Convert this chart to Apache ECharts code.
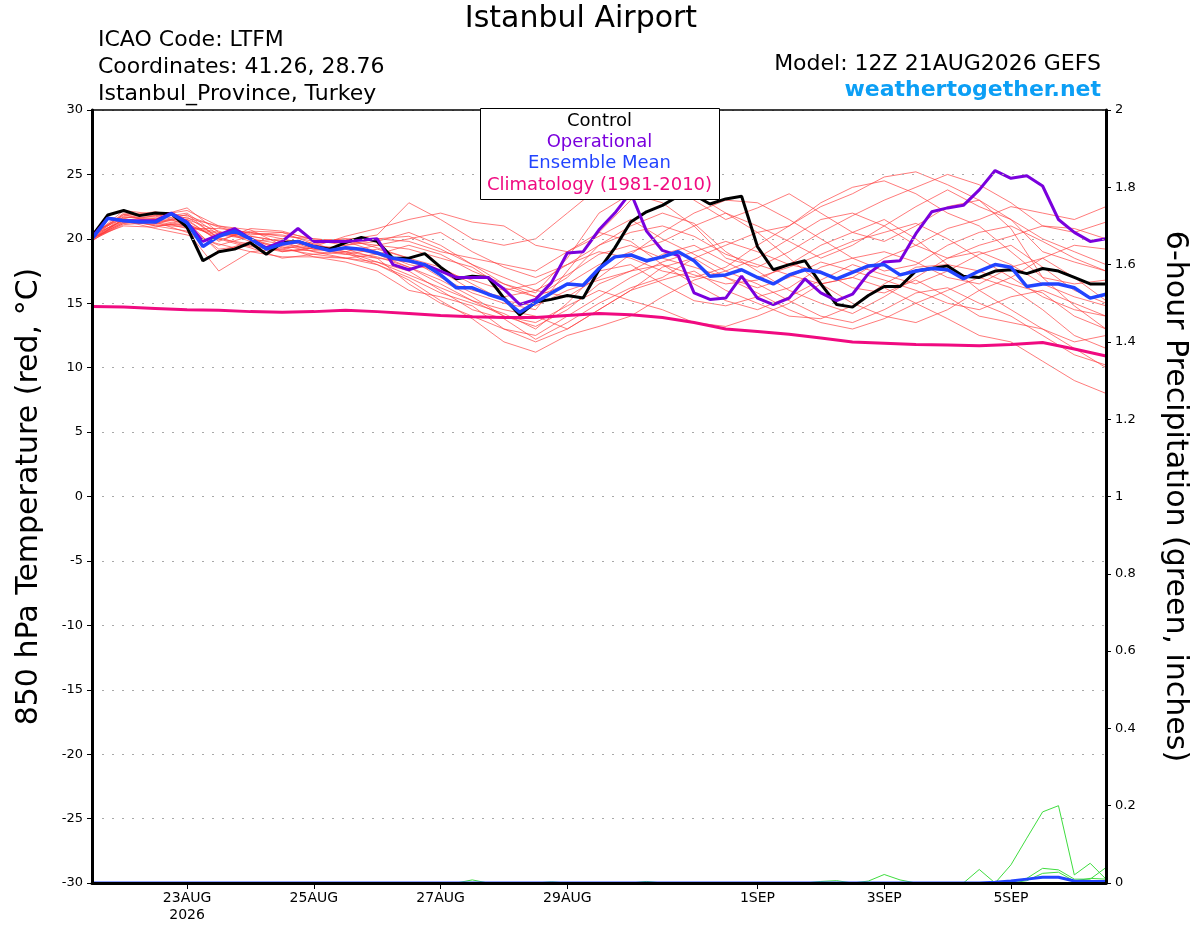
<!DOCTYPE html>
<html>
<head>
<meta charset="utf-8">
<title>Istanbul Airport</title>
<script src="https://cdn.jsdelivr.net/npm/echarts@6.0.0/dist/echarts.min.js"></script>
<style>
html, body { margin: 0; padding: 0; background: #fff; }
#chart { width: 1200px; height: 927px; }
</style>
</head>
<body>
<div id="chart"></div>
<script>
// forecast hours from 12Z 21AUG2026
var hours6 = [0,6,12,18,24,30,36,42,48,54,60,66,72,78,84,90,96,102,108,114,120,126,132,138,144,150,156,162,168,174,180,186,192,198,204,210,216,222,228,234,240,246,252,258,264,270,276,282,288,294,300,306,312,318,324,330,336,342,348,354,360,366,372,378,384];
var hours12 = [0,12,24,36,48,60,72,84,96,108,120,132,144,156,168,180,192,204,216,228,240,252,264,276,288,300,312,324,336,348,360,372,384];

var tickHours = [36, 84, 132, 180, 252, 300, 348];
var tickLabels = ['23AUG\n2026', '25AUG', '27AUG', '29AUG', '1SEP', '3SEP', '5SEP'];

// 850 hPa temperature, 6-hourly
var controlT = [20.2,21.85,22.2,21.8,22.0,21.95,20.9,18.3,19.0,19.2,
	19.7,18.8,19.7,19.8,19.4,19.2,19.7,20.1,19.8,18.5,
	18.5,18.85,17.8,16.9,17.1,17.0,15.4,14.1,15.1,15.3,
	15.6,15.4,17.6,19.3,21.3,22.1,22.6,23.3,23.4,22.7,
	23.1,23.3,19.4,17.6,18.0,18.3,16.5,14.9,14.7,15.6,
	16.3,16.3,17.5,17.7,17.9,17.1,17.0,17.5,17.6,17.3,
	17.7,17.5,17.0,16.5,16.5];
var operationalT = [20.1,21.6,21.4,21.4,21.4,22.0,21.3,19.8,20.3,20.8,
	20.0,19.3,19.8,20.8,19.8,19.8,19.8,19.9,20.0,18.0,
	17.6,18.0,17.5,17.0,17.0,17.0,16.1,14.9,15.3,16.6,
	18.9,19.0,20.7,22.0,23.6,20.6,19.1,18.7,15.8,15.3,
	15.4,17.1,15.4,14.9,15.4,16.9,15.8,15.2,15.7,17.3,
	18.2,18.3,20.4,22.1,22.4,22.6,23.8,25.3,24.7,24.9,
	24.1,21.5,20.5,19.8,20.0];
var meanT = [20.0,21.6,21.4,21.3,21.3,21.95,21.25,19.4,20.2,20.6,
	20.0,19.2,19.6,19.8,19.4,19.1,19.3,19.2,18.9,18.5,
	18.3,18.0,17.2,16.2,16.2,15.7,15.3,14.3,15.05,15.8,
	16.5,16.4,17.7,18.6,18.75,18.3,18.6,19.0,18.3,17.1,
	17.2,17.6,17.0,16.5,17.2,17.6,17.4,16.9,17.4,17.9,
	18.0,17.2,17.5,17.7,17.6,16.9,17.5,18.0,17.8,16.3,
	16.5,16.5,16.2,15.4,15.7];

// climatology 1981-2010, 12-hourly
var climoT = [14.75,14.7,14.6,14.5,14.45,14.35,14.3,14.35,14.45,14.35,
	14.2,14.05,13.95,13.9,13.9,14.05,14.2,14.1,13.9,13.5,
	13.0,12.8,12.6,12.3,12.0,11.9,11.8,11.75,11.7,11.8,
	11.95,11.45,10.9];

// ensemble members, 12-hourly
var member01 = [20.3,21.9,21.7,22.4,20.5,20.2,19.8,19.6,19.9,20.3,22.8,21.5,20.0,19.5,20.0,22.0,24.0,25.4,24.8,23.0,21.5,22.4,23.5,22.0,20.5,19.8,21.0,22.5,23.0,21.5,19.0,18.2,17.5];
var member02 = [20.0,21.5,21.2,21.0,19.2,19.5,19.0,19.3,19.0,18.2,17.5,16.0,14.5,13.8,12.2,13.5,15.0,16.2,17.0,18.5,19.5,20.5,21.0,22.5,23.5,24.8,25.2,24.2,23.0,20.8,17.0,14.8,13.0];
var member03 = [19.9,21.2,21.4,20.8,20.8,20.5,20.0,19.2,18.9,18.0,17.0,15.8,15.0,14.2,13.0,15.0,17.5,18.0,16.5,15.2,14.8,15.5,16.2,17.8,18.5,19.0,18.2,17.0,16.5,17.8,18.5,17.0,15.2];
var member04 = [20.2,22.2,21.9,21.8,20.9,20.3,20.5,20.0,19.8,19.5,19.2,18.5,17.8,16.2,15.5,17.0,19.5,21.0,22.0,21.2,19.0,17.5,16.0,15.0,14.2,15.5,17.0,18.5,19.5,20.2,21.0,20.8,20.0];
var member05 = [20.1,21.0,20.9,21.5,19.8,20.8,20.6,19.9,19.5,19.8,20.5,19.5,18.0,16.5,15.8,18.5,22.0,23.5,22.8,21.0,18.5,17.8,19.0,20.5,21.8,23.0,24.0,25.0,24.2,22.8,21.0,20.5,21.3];
var member06 = [19.8,21.6,21.0,20.6,17.5,19.0,19.2,18.8,18.5,18.0,16.8,15.2,13.8,12.0,11.2,12.5,13.2,14.0,15.5,16.8,17.5,16.5,15.2,14.0,13.5,14.5,15.8,16.2,15.0,14.0,12.5,11.0,10.2];
var member07 = [20.4,21.8,22.1,21.6,21.0,20.7,19.5,19.0,18.8,19.2,18.5,17.8,16.5,15.2,14.8,16.0,16.8,17.5,18.8,19.5,18.2,17.0,17.8,18.8,19.8,20.5,21.2,20.0,18.5,17.0,15.5,14.5,14.0];
var member08 = [20.0,21.3,21.6,22.0,20.3,20.0,19.3,19.4,20.2,20.8,21.5,22.0,21.3,21.0,19.5,19.0,20.5,19.8,18.0,16.5,15.2,14.5,15.5,16.8,18.0,17.2,16.5,17.5,18.8,19.5,17.8,16.0,15.0];
var member09 = [20.2,21.5,21.0,21.2,20.0,19.3,18.5,18.8,19.0,18.6,17.8,16.8,15.5,14.0,13.5,14.8,16.0,15.2,14.5,13.5,13.2,14.0,15.0,16.5,17.0,16.2,15.0,13.8,12.5,12.0,10.5,9.0,8.0];
var member10 = [20.0,21.7,21.5,21.0,20.2,20.5,20.2,20.0,19.8,19.0,18.0,17.5,16.8,16.0,16.5,18.0,19.5,20.5,21.0,20.2,18.8,18.0,17.2,16.5,17.0,18.5,19.5,20.8,21.5,22.5,22.0,21.5,22.5];
var member11 = [20.3,21.4,21.8,21.5,20.6,19.8,20.0,19.5,19.2,18.5,16.5,15.0,14.0,13.0,12.0,13.0,14.5,16.0,17.8,18.5,17.0,15.8,14.5,13.5,13.0,13.8,15.0,16.0,17.0,16.2,14.5,12.5,11.5];
var member12 = [19.9,21.1,21.3,20.5,19.5,20.2,19.8,19.0,18.5,18.8,19.5,18.8,17.5,16.5,15.5,16.5,18.0,19.0,19.8,21.0,22.0,21.0,19.8,18.5,19.5,21.0,22.5,23.8,22.5,21.5,20.0,19.0,18.0];
var member13 = [20.1,21.9,21.2,21.9,20.0,19.6,19.2,19.8,20.0,19.3,18.5,17.0,15.8,15.0,14.5,17.5,20.5,23.0,24.5,23.5,22.0,20.5,18.5,16.5,15.0,14.0,13.5,14.5,16.0,17.0,18.5,19.5,19.2];
var member14 = [20.0,21.2,21.5,21.3,19.0,19.8,19.4,18.6,18.2,17.5,16.0,15.5,14.8,13.0,12.5,14.0,15.5,17.0,18.2,19.0,19.8,19.0,18.0,17.5,16.2,15.8,16.8,15.5,14.0,13.5,13.0,12.0,12.5];
var member15 = [20.2,22.0,21.8,22.2,21.0,20.4,20.3,19.8,20.0,20.0,19.8,19.0,18.5,18.0,17.5,19.0,20.2,21.5,20.0,18.8,17.5,18.5,20.0,21.5,22.0,21.0,19.5,18.5,19.0,18.0,16.5,15.5,14.8];
var member16 = [20.0,21.4,20.8,20.3,19.6,19.0,18.6,18.6,18.5,18.2,17.2,16.2,15.2,14.5,14.0,13.0,14.5,16.0,16.8,17.5,16.0,15.0,14.0,13.8,14.8,16.5,17.8,18.0,17.5,16.5,15.8,14.0,13.0];
var member17 = [20.5,21.6,22.0,21.0,20.5,20.0,19.6,19.2,19.5,20.0,20.2,19.2,18.0,17.0,16.0,15.5,17.0,18.8,20.5,22.0,23.0,22.8,21.5,20.0,18.5,17.5,18.0,19.5,20.5,21.0,19.8,18.5,17.5];
var member18 = [20.0,21.3,21.1,20.9,20.4,20.1,19.0,19.3,18.8,18.5,18.2,17.5,16.0,15.5,16.0,17.2,18.8,19.5,18.5,17.8,17.0,16.2,17.0,18.2,17.5,16.8,16.0,15.0,14.5,15.5,16.0,15.0,14.0];
var member19 = [20.3,21.7,21.6,21.4,19.9,20.6,20.5,19.6,19.0,19.5,20.0,20.5,19.0,17.8,17.0,18.0,19.0,18.5,17.5,17.0,17.8,19.5,21.0,22.8,24.0,24.5,23.5,22.0,21.0,19.0,17.0,16.5,16.8];
var member20 = [20.1,21.5,21.2,21.7,20.1,19.4,19.1,19.1,19.3,18.8,17.8,16.5,15.2,14.0,13.2,14.5,16.5,17.5,18.0,17.2,16.5,16.8,18.0,19.5,20.5,21.5,20.0,18.0,16.0,14.5,13.0,11.5,10.0];
var memberList = [member01, member02, member03, member04, member05, member06, member07, member08, member09, member10,
	member11, member12, member13, member14, member15, member16, member17, member18, member19, member20];

// 6-hour precipitation (inches), 6-hourly
var precipG1 = [0,0,0,0,0,0,0,0,0,0, 0,0,0,0,0,0,0,0,0,0, 0,0,0,0,0.008,0,0,0,0,0, 0,0,0,0,0,0,0,0,0,0,
	0,0,0,0,0,0,0,0,0,0.005, 0.022,0.008,0,0,0,0,0.035,0,0.047,0.116, 0.184,0.2,0.021,0.051,0.01];
var precipG2 = [0,0,0,0,0,0,0,0,0,0, 0,0,0,0,0,0,0,0,0,0, 0,0,0,0,0,0,0,0,0,0.003, 0,0,0,0,0,0.004,0,0,0,0,
	0,0,0,0,0,0,0,0,0,0, 0,0,0,0,0,0,0,0,0.002,0.012, 0.038,0.034,0.01,0.01,0.04];
var precipG3 = [0,0,0,0,0,0,0,0,0,0, 0,0,0,0,0,0,0,0,0,0, 0,0,0,0,0,0,0,0,0,0, 0,0,0,0,0,0,0,0,0,0,
	0,0,0,0,0,0,0.004,0.006,0,0, 0,0,0,0,0,0,0,0,0,0.006, 0.025,0.028,0.005,0.012,0.01];
var precipMean = [0,0,0,0,0,0,0,0,0,0, 0,0,0,0,0,0,0,0,0,0, 0,0,0,0,0,0,0,0,0,0, 0,0,0,0,0,0,0,0,0,0,
	0,0,0,0,0,0,0,0,0,0, 0,0,0,0,0,0,0,0.002,0.005,0.01, 0.015,0.015,0.005,0.004,0.004];

var FONT = 'DejaVu Sans';

function pairs(xs, ys) {
	return ys.map(function (v, k) { return [xs[k], v]; });
}

function lineSeries(data, axis, color, width, z) {
	return {
		type: 'line',
		yAxisIndex: axis,
		data: data,
		showSymbol: false,
		silent: true,
		lineStyle: { color: color, width: width },
		z: z
	};
}

var seriesList = [];
memberList.forEach(function (m) {
	var s = lineSeries(pairs(hours12, m), 0, '#ff3c3c', 0.8, 2);
	s.lineStyle.opacity = 0.85;
	seriesList.push(s);
});
[precipG1, precipG2, precipG3].forEach(function (p) {
	seriesList.push(lineSeries(pairs(hours6, p), 1, '#3fdc3f', 1, 3));
});
seriesList.push(lineSeries(pairs(hours6, precipMean), 1, '#2244ff', 3, 3));
seriesList.push(lineSeries(pairs(hours6, controlT), 0, '#000000', 3, 4));
seriesList.push(lineSeries(pairs(hours6, operationalT), 0, '#7a00dd', 3, 5));
seriesList.push(lineSeries(pairs(hours6, meanT), 0, '#2244ff', 3.5, 6));
seriesList.push(lineSeries(pairs(hours12, climoT), 0, '#f00a80', 3, 7));

function txt(str, x, y, size, align, color, weight) {
	return {
		type: 'text', z: 100,
		style: {
			text: str, x: x, y: y,
			fontFamily: FONT, fontSize: size, fontWeight: weight || 'normal',
			fill: color || '#000',
			textAlign: align, align: align,
			textVerticalAlign: 'middle', verticalAlign: 'middle'
		}
	};
}

var chart = echarts.init(document.getElementById('chart'));

var option = {
	animation: false,
	backgroundColor: '#fff',
	grid: {
		left: 92, right: 94, top: 110, bottom: 44,
		outerBoundsMode: 'none',
		containLabel: false,
		show: false
	},
	xAxis: [
		{
			type: 'value', min: 0, max: 384, z: 10,
			axisLine: { show: true, onZero: false, lineStyle: { color: '#000', width: 3 } },
			axisTick: { show: true, customValues: tickHours, length: 6, lineStyle: { color: '#000', width: 1 } },
			axisLabel: {
				customValues: tickHours,
				margin: 7,
				fontFamily: FONT, fontSize: 14, lineHeight: 17, color: '#000',
				formatter: function (v) {
					var k = tickHours.indexOf(v);
					return k >= 0 ? tickLabels[k] : '';
				}
			},
			splitLine: { show: false }
		},
		{
			// top frame line
			type: 'value', position: 'top', min: 0, max: 384, z: 10,
			axisLine: { show: true, onZero: false, lineStyle: { color: '#000', width: 1.5 } },
			axisTick: { show: false },
			axisLabel: { show: false },
			splitLine: { show: false }
		}
	],
	yAxis: [
		{
			type: 'value', position: 'left', min: -30, max: 30, interval: 5, z: 10,
			name: '850 hPa Temperature (red, °C)',
			nameLocation: 'middle', nameRotate: 90, nameGap: 48,
			nameTextStyle: { fontFamily: FONT, fontSize: 30, color: '#000' },
			axisLine: { show: true, onZero: false, lineStyle: { color: '#000', width: 3 } },
			axisTick: { show: true, length: 5, lineStyle: { color: '#000', width: 1 } },
			axisLabel: { margin: 9, fontFamily: FONT, fontSize: 13, color: '#000' },
			splitLine: { show: true, lineStyle: { color: '#a8a8a8', width: 1, type: [2, 8] } }
		},
		{
			type: 'value', position: 'right', min: 0, max: 2, interval: 0.2, z: 10,
			name: '6-hour Precipitation (green, inches)',
			nameLocation: 'middle', nameRotate: -90, nameGap: 54,
			nameTextStyle: { fontFamily: FONT, fontSize: 30, color: '#000' },
			axisLine: { show: true, onZero: false, lineStyle: { color: '#000', width: 3 } },
			axisTick: { show: true, length: 5, lineStyle: { color: '#000', width: 1 } },
			axisLabel: { margin: 9, fontFamily: FONT, fontSize: 13, color: '#000' },
			splitLine: { show: false }
		}
	],
	graphic: [
		txt('Istanbul Airport', 581, 19, 30, 'center'),
		txt('ICAO Code: LTFM', 98, 40, 22, 'left'),
		txt('Coordinates: 41.26, 28.76', 98, 67, 22, 'left'),
		txt('Istanbul_Province, Turkey', 98, 94, 22, 'left'),
		txt('Model: 12Z 21AUG2026 GEFS', 1101, 64, 22, 'right'),
		txt('weathertogether.net', 1101, 90, 22, 'right', '#0c9ff5', 'bold'),
		{
			type: 'rect', z: 99,
			shape: { x: 480.5, y: 108.5, width: 239, height: 91 },
			style: { fill: '#fff', stroke: '#000', lineWidth: 1 }
		},
		txt('Control', 599.5, 121, 18, 'center', '#000'),
		txt('Operational', 599.5, 142, 18, 'center', '#7a00dd'),
		txt('Ensemble Mean', 599.5, 163, 18, 'center', '#2244ff'),
		txt('Climatology (1981-2010)', 599.5, 185, 18, 'center', '#f00a80')
	],
	series: seriesList
};

chart.setOption(option);
</script>
</body>
</html>
